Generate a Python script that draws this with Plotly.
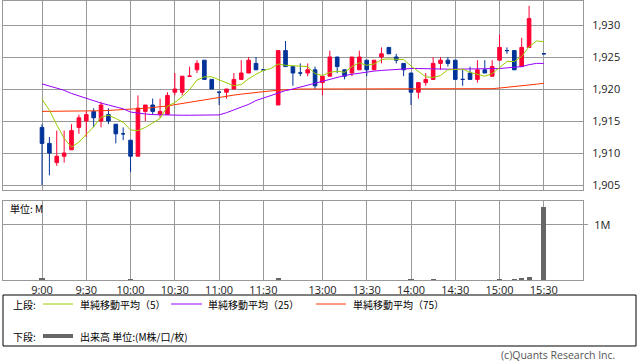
import plotly.graph_objects as go
import pandas as pd

# 5-minute slots: 0 = 9:00 ... 30 = 11:30, 31 empty (lunch), 32 = 12:30 ... 68 = 15:30, 67 empty
slots = list(range(69))
tick_slots = [0, 6, 12, 18, 24, 30, 38, 44, 50, 56, 62, 68]
tick_labels = ["9:00", "9:30", "10:00", "10:30", "11:00", "11:30",
               "13:00", "13:30", "14:00", "14:30", "15:00", "15:30"]

N = None
opens = [1914, 1911.5, 1908.5, 1909.5, 1910.5, 1914, 1915, 1916.5, 1915, 1916,
         1914.5, 1913, 1912, 1909.5, 1916.5, 1917.5, 1916, 1916, 1919.5, 1919.5,
         1922, 1923, 1924.5, 1921.5, 1919.5, 1919.5, 1920, 1921.5, 1922.5, 1924,
         1923, N, 1917.5, 1926, 1923.5, 1922.5, 1922.5, 1923, 1921, 1922,
         1925, 1923, 1922.5, 1923, 1924.5, 1923, 1925, 1926.5, 1925, 1924,
         1922.5, 1919.5, 1921, 1921.5, 1924, 1924.5, 1924.5, 1921.5, 1922.5, 1921.5,
         1923, 1922, 1924.5, 1926, 1926, 1923.5, 1926.5, N, 1925.5]
highs = [1914.5, 1912.5, 1913.5, 1913.5, 1914.5, 1916, 1916.5, 1917, 1918, 1917,
         1914.5, 1914, 1912, 1919, 1917.5, 1918.5, 1918.5, 1919.5, 1922.5, 1922,
         1923.5, 1924.5, 1924.5, 1921.5, 1919.5, 1920, 1922.5, 1924.5, 1925, 1925,
         1923, N, 1926, 1927.5, 1923.5, 1924, 1924, 1923.5, 1922, 1926,
         1925, 1923, 1925, 1926, 1924.5, 1924.5, 1926.5, 1926.5, 1925.5, 1924,
         1922.5, 1921, 1922.5, 1925, 1925, 1925, 1924.5, 1923, 1923.5, 1924.5,
         1924.5, 1924.5, 1928.5, 1926.5, 1926, 1928, 1933, N, 1925.5]
lows = [1905, 1906.5, 1908, 1908.5, 1910.5, 1913, 1912.5, 1914, 1914, 1914.5,
        1911.5, 1912, 1907, 1909.5, 1915, 1916, 1915.5, 1916, 1919, 1919,
        1922, 1922.5, 1921.5, 1920, 1917.5, 1918.5, 1920, 1921.5, 1922.5, 1923,
        1923, N, 1917.5, 1923.5, 1920.5, 1922, 1922, 1920, 1919, 1922,
        1922.5, 1921.5, 1922, 1923, 1922, 1923, 1924, 1925.5, 1924, 1922,
        1917.5, 1918.5, 1920.5, 1921.5, 1923, 1923.5, 1921.5, 1920.5, 1921.5, 1921,
        1922.5, 1922, 1924.5, 1925.5, 1923, 1923.5, 1926.5, N, 1925.5]
closes = [1911.5, 1910, 1909.5, 1910, 1913.5, 1915.5, 1916, 1915.5, 1917.5, 1915,
          1913, 1913, 1909.5, 1917, 1917.5, 1916.5, 1916.5, 1919, 1920, 1922,
          1922, 1924, 1921.5, 1920, 1919.5, 1920, 1921.5, 1922.5, 1924.5, 1923,
          1923, N, 1926, 1923.5, 1922.5, 1922.5, 1923, 1920.5, 1922, 1925,
          1923.5, 1922, 1925, 1925, 1923, 1924.5, 1925.5, 1925.5, 1924.5, 1923,
          1919.5, 1921, 1921.5, 1924, 1924.5, 1924, 1921.5, 1921.5, 1921.5, 1923,
          1922.5, 1923.5, 1926.5, 1926, 1923, 1926.5, 1931, N, 1925.5]
# closes of the previous session's last four slots (read from where the 5-slot average starts)
prev_closes = [1918.5, 1921, 1920.5, 1920.5]

ma25 = [1920.8, 1920.45, 1920.1, 1919.8, 1919.3, 1918.9, 1918.6, 1918.2, 1917.8, 1917.5,
        1917.2, 1916.9, 1916.4, 1916.2, 1916.1, 1916.0, 1915.95, 1915.9, 1915.9, 1915.9,
        1915.9, 1915.9, 1915.9, 1915.9, 1915.95, 1916.3, 1916.7, 1917.1, 1917.6, 1918.2,
        1918.6, 1919.0, 1919.4, 1919.75, 1920.0, 1920.3, 1920.6, 1920.9, 1921.3, 1921.6,
        1921.9, 1922.1, 1922.3, 1922.5, 1922.65, 1922.8, 1922.9, 1923.0, 1923.1, 1923.15,
        1923.2, 1923.2, 1923.15, 1923.1, 1923.1, 1923.1, 1923.1, 1923.1, 1923.1, 1923.1,
        1923.1, 1923.15, 1923.2, 1923.3, 1923.4, 1923.5, 1923.8, 1924.0, 1924.0]
ma75 = [1916.5, 1916.5, 1916.5, 1916.5, 1916.5, 1916.5, 1916.5, 1916.55, 1916.6, 1916.65,
        1916.7, 1916.75, 1916.8, 1916.9, 1917.0, 1917.1, 1917.2, 1917.35, 1917.55, 1917.75,
        1917.95, 1918.15, 1918.35, 1918.55, 1918.75, 1918.9, 1919.05, 1919.2, 1919.35, 1919.5,
        1919.6, 1919.7, 1919.8, 1919.9, 1919.95, 1920.0, 1920.0, 1920.0, 1920.0, 1920.0,
        1920.0, 1920.0, 1920.0, 1920.0, 1920.0, 1920.0, 1920.0, 1920.0, 1920.0, 1920.05,
        1920.05, 1920.05, 1920.05, 1920.05, 1920.05, 1920.05, 1920.05, 1920.05, 1920.05, 1920.05,
        1920.05, 1920.05, 1920.15, 1920.25, 1920.35, 1920.5, 1920.6, 1920.75, 1920.9]

# volume in millions
volumes = [0.04, 0.008, 0.006, 0.008, 0.007, 0.008, 0.006, 0.007, 0.008, 0.006,
           0.007, 0.006, 0.02, 0.009, 0.007, 0.006, 0.007, 0.008, 0.006, 0.007,
           0.006, 0.007, 0.008, 0.006, 0.007, 0.006, 0.007, 0.006, 0.008, 0.007,
           0.006, N, 0.04, 0.009, 0.007, 0.006, 0.007, 0.008, 0.007, 0.006,
           0.007, 0.006, 0.007, 0.008, 0.007, 0.006, 0.007, 0.006, 0.007, 0.008,
           0.02, 0.008, 0.007, 0.02, 0.007, 0.006, 0.008, 0.007, 0.006, 0.007,
           0.008, 0.009, 0.02, 0.009, 0.01, 0.045, 0.06, N, 1.32]

df = pd.DataFrame({"slot": slots, "open": opens, "high": highs, "low": lows,
                   "close": closes, "vol": volumes, "ma25": ma25, "ma75": ma75})
# simple 5-slot moving average of closes (empty slots carry the previous close)
cl = pd.concat([pd.Series(prev_closes, dtype=float), df["close"].astype(float).ffill()],
               ignore_index=True)
df["ma5"] = cl.rolling(5).mean().iloc[len(prev_closes):].to_numpy()

trade = df.dropna(subset=["open"])

W, H = 638, 362
L, R, T, B = 3, 583, 1, 280


def px(X):
    return (X - L) / (R - L)


def py(Y):
    return (B - Y) / (B - T)


GRID = "#999999"
RED = "#FF0033"
BLUE = "#003399"
TICKFONT = dict(family="Open Sans", size=11, color="#222222")
fig = go.Figure()

fig.add_trace(go.Candlestick(
    x=trade["slot"], open=trade["open"], high=trade["high"], low=trade["low"],
    close=trade["close"], xaxis="x", yaxis="y",
    increasing=dict(line=dict(color=RED, width=1), fillcolor=RED),
    decreasing=dict(line=dict(color=BLUE, width=1), fillcolor=BLUE),
    whiskerwidth=0, showlegend=False, hoverinfo="skip"))

for col, color in [("ma75", "#FF3300"), ("ma25", "#9900FF"), ("ma5", "#99CC00")]:
    fig.add_trace(go.Scatter(x=df["slot"], y=df[col], mode="lines", xaxis="x", yaxis="y",
                             line=dict(color=color, width=1), showlegend=False,
                             hoverinfo="skip"))

fig.add_trace(go.Bar(x=df["slot"], y=df["vol"], xaxis="x2", yaxis="y2",
                     marker=dict(color="#666666", line=dict(width=0)), width=0.68,
                     showlegend=False, hoverinfo="skip"))

xr = [(L - 42) / 7.38, (R - 42) / 7.38]
axis_common = dict(range=xr, tickvals=tick_slots, showgrid=True, gridcolor=GRID, gridwidth=1,
                   showline=True, linecolor=GRID, linewidth=1, mirror=True, zeroline=False,
                   fixedrange=True)

y_ticks = [1905, 1910, 1915, 1920, 1925, 1930]
fig.update_layout(
    width=W, height=H,
    margin=dict(l=L, r=W - R, t=T, b=H - B),
    paper_bgcolor="white", plot_bgcolor="white",
    font=dict(family="Open Sans", size=11, color="#222222"),
    showlegend=False,
    xaxis=dict(axis_common, anchor="y", showticklabels=False, ticks="",
               rangeslider=dict(visible=False)),
    xaxis2=dict(axis_common, anchor="y2", ticktext=tick_labels, ticks="",
                ticklabelstandoff=0, tickfont=TICKFONT),
    yaxis=dict(domain=[py(190), 1], range=[1905 - 5 / 6.4, 1930 + 24 / 6.4], side="right",
               tickvals=y_ticks, ticktext=[f"{v:,}" for v in y_ticks], showgrid=True,
               gridcolor=GRID, showline=True, linecolor=GRID, mirror=True, zeroline=False,
               ticks="", ticklabelstandoff=6, tickfont=TICKFONT, anchor="x", fixedrange=True),
    yaxis2=dict(domain=[0, py(201)], range=[0, 1.43], side="right", tickvals=[1],
                ticktext=["1M"], showgrid=True, gridcolor=GRID, showline=True, linecolor=GRID,
                mirror=True, zeroline=False, ticks="outside", ticklen=4, tickcolor=GRID,
                ticklabelstandoff=4, tickfont=TICKFONT, anchor="x2", fixedrange=True),
    bargap=0,
)

JP = "Noto Sans CJK JP"
ann = [
    ("単位: M", 8, 209),
    ("上段:", 11, 304),
    ("単純移動平均（5）", 78, 304),
    ("単純移動平均（25）", 206, 304),
    ("単純移動平均（75）", 351, 304),
    ("下段:", 11, 336),
    ("出来高 単位:(M株/口/枚)", 78, 336),
]
for text, X, Y in ann:
    fig.add_annotation(text=text, x=px(X), y=py(Y), xref="paper", yref="paper",
                       xanchor="left", yanchor="middle", showarrow=False,
                       font=dict(family=JP, size=10, color="#000000"))
fig.add_annotation(text="(c)Quants Research Inc.", x=px(617), y=py(354.5), xref="paper",
                   yref="paper", xanchor="right", yanchor="middle", showarrow=False,
                   font=dict(family="Open Sans", size=10.5, color="#555555"))

shapes = [
    dict(type="rect", x0=px(3), x1=px(636), y0=py(295), y1=py(346),
         line=dict(color="#000000", width=1), fillcolor="rgba(0,0,0,0)"),
    dict(type="line", x0=px(43), x1=px(73), y0=py(304), y1=py(304),
         line=dict(color="#99CC00", width=1)),
    dict(type="line", x0=px(171), x1=px(202), y0=py(304), y1=py(304),
         line=dict(color="#9900FF", width=1)),
    dict(type="line", x0=px(316), x1=px(346), y0=py(304), y1=py(304),
         line=dict(color="#FF3300", width=1)),
    dict(type="line", x0=px(43), x1=px(73), y0=py(336), y1=py(336),
         line=dict(color="#666666", width=4)),
]
for s in shapes:
    fig.add_shape(xref="paper", yref="paper", **s)

fig.write_html("out.html", config={"displayModeBar": False, "staticPlot": True},
               post_script="document.body.style.margin='0';document.body.style.overflow='hidden';")
